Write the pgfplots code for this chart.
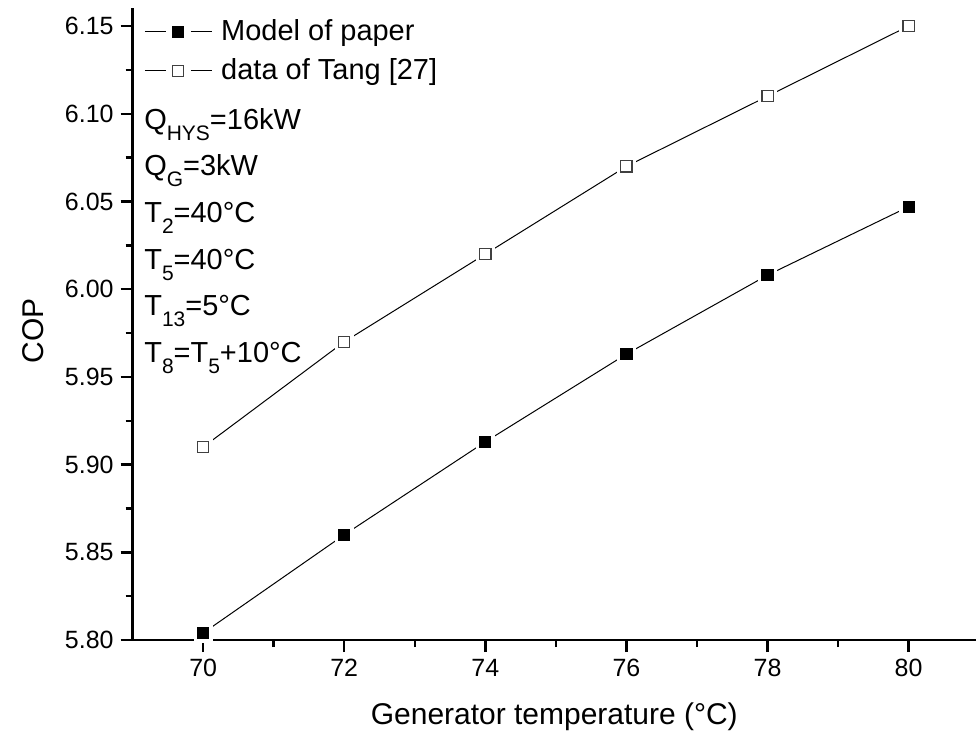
\documentclass[border=0pt]{standalone}
\usepackage{pgfplots}
\pgfplotsset{compat=1.18}
\usepackage{pgfplotstable}
\usepackage{fontspec}
\setmainfont{Liberation Sans}
\newcommand\sub[1]{\raisebox{-5.5pt}{\fontsize{10.5}{10.5}\selectfont #1}}
\newcommand\fs{\fontsize{14.5}{17}\selectfont}
\pgfplotstableread{
x y
70 5.804
72 5.860
74 5.913
76 5.963
78 6.008
80 6.047
}\model
\pgfplotstableread{
x y
70 5.910
72 5.970
74 6.020
76 6.070
78 6.110
80 6.150
}\tang
\begin{document}
\begin{tikzpicture}
\path[use as bounding box] (-66.35pt,-47pt) rectangle (422pt,320.25pt);
\begin{axis}[
  at={(0,0)}, anchor=south west,
  scale only axis, width=422pt, height=316pt,
  xmin=69, xmax=80.955, ymin=5.80, ymax=6.16,
  axis x line*=bottom, axis y line*=left,
  axis line style={line width=1.2pt, -},
  tick align=outside,
  major tick length=6pt, minor tick length=3.5pt,
  every tick/.style={line width=1.2pt, black},
  xtick={70,72,74,76,78,80},
  minor x tick num=1,
  ytick={5.80,5.85,5.90,5.95,6.00,6.05,6.10,6.15},
  minor y tick num=1,
  yticklabel style={/pgf/number format/.cd, fixed, fixed zerofill, precision=2},
  /pgf/number format/assume math mode=true,
  ticklabel style={font=\fontsize{12.5}{14}\selectfont},
  xlabel={Generator temperature (°C)},
  ylabel={COP},
  label style={font=\fontsize{15}{17}\selectfont},
  xlabel style={at={(axis description cs:0.5,-0.1345)}, anchor=base},
  ylabel style={at={(axis description cs:-0.118,0.49)}, anchor=center},
  legend style={at={(axis description cs:0,1)}, anchor=north west,
    xshift=5.65pt, yshift=-5.5pt, draw=none, fill=none, inner sep=0pt,
    font=\fs, row sep=7.5pt, nodes={inner sep=0pt}},
  legend cell align=left,
  legend image code/.code={
    \draw[#1, mark=none] (0pt,0pt) -- (10.5pt,0pt);
    \draw[#1, mark=none] (23pt,0pt) -- (33.5pt,0pt);
    \draw[#1] plot coordinates {(16.75pt,0pt)};
    \path (38pt,0pt);
  },
]
\addplot[black, line width=0.5pt, mark=square*, mark size=2.8pt, mark options={fill=black, draw=black, line width=0.5pt}] table {\model};
\addlegendentry{Model of paper}
\addplot[black, line width=0.5pt, mark=square*, mark size=2.8pt, mark options={fill=white, draw=black!75, line width=0.6pt}] table {\tang};
\addlegendentry{data of Tang [27]}
\addplot[forget plot, only marks, white, mark=square*, mark size=4.6pt, mark options={fill=white, draw=white}] table {\model};
\addplot[forget plot, only marks, white, mark=square*, mark size=4.6pt, mark options={fill=white, draw=white}] table {\tang};
\addplot[forget plot, only marks, black, mark=square*, mark size=2.8pt, mark options={fill=black, draw=black, line width=0.5pt}] table {\model};
\addplot[forget plot, only marks, black, mark=square*, mark size=2.8pt, mark options={fill=white, draw=black!75, line width=0.6pt}] table {\tang};
\node[anchor=base west, font=\fs, inner sep=0pt] at (axis description cs:0.0134,0.8085) {Q\sub{HYS}=16kW};
\node[anchor=base west, font=\fs, inner sep=0pt] at (axis description cs:0.0134,0.7348) {Q\sub{G}=3kW};
\node[anchor=base west, font=\fs, inner sep=0pt] at (axis description cs:0.0134,0.6611) {T\sub{2}=40°C};
\node[anchor=base west, font=\fs, inner sep=0pt] at (axis description cs:0.0134,0.5874) {T\sub{5}=40°C};
\node[anchor=base west, font=\fs, inner sep=0pt] at (axis description cs:0.0134,0.5137) {T\sub{13}=5°C};
\node[anchor=base west, font=\fs, inner sep=0pt] at (axis description cs:0.0134,0.4400) {T\sub{8}=T\sub{5}+10°C};
\end{axis}
\end{tikzpicture}
\end{document}
